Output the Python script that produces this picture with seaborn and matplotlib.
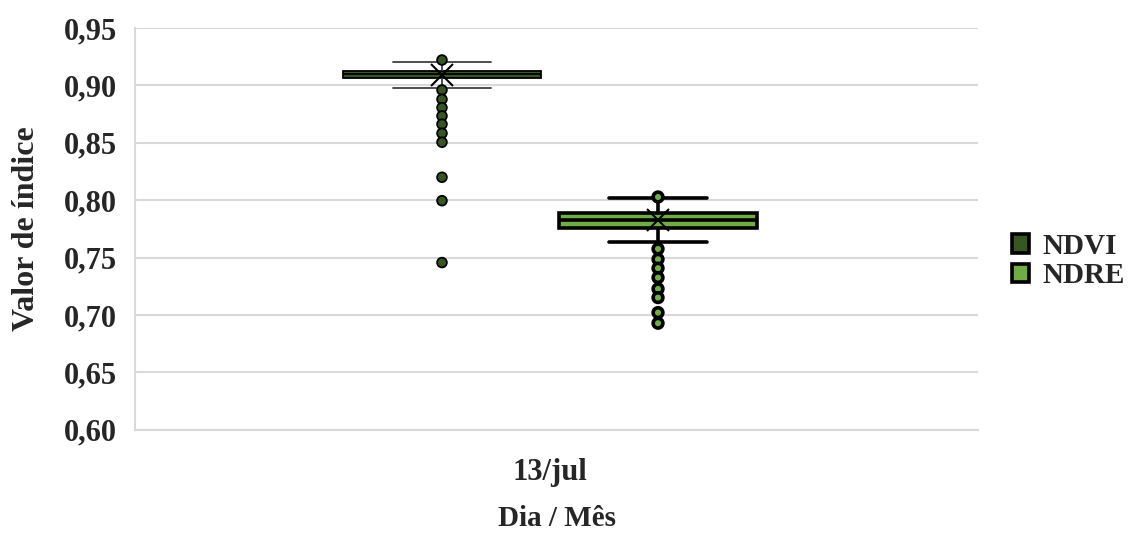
import pandas as pd
import numpy as np
import matplotlib
matplotlib.use("Agg")
import matplotlib.pyplot as plt
import seaborn as sns
from matplotlib.ticker import FuncFormatter

# data
dia = "13/jul"
indices = ["NDVI", "NDRE"]
# five-number summaries: lower whisker, Q1, median, Q3, upper whisker
ndvi_box = [0.8980, 0.9062, 0.9095, 0.9128, 0.9207]
ndre_box = [0.7634, 0.7762, 0.7826, 0.7887, 0.8018]
ndvi_outliers = [0.9221, 0.8960, 0.8879, 0.8806, 0.8734, 0.8662, 0.8583, 0.8505, 0.8200, 0.7996, 0.7457]
ndre_outliers = [0.8028, 0.7576, 0.7486, 0.7408, 0.7326, 0.7228, 0.7152, 0.7021, 0.6929]
means = [0.9091, 0.7828]
colors = ["#375623", "#70AD47"]

box_df = pd.DataFrame({
    "dia": dia,
    "indice": ["NDVI"] * len(ndvi_box) + ["NDRE"] * len(ndre_box),
    "valor": ndvi_box + ndre_box,
})
out_df = pd.DataFrame({
    "dia": dia,
    "indice": ["NDVI"] * len(ndvi_outliers) + ["NDRE"] * len(ndre_outliers),
    "valor": ndvi_outliers + ndre_outliers,
})
mean_df = pd.DataFrame({"dia": dia, "indice": indices, "valor": means})

sns.set_style("white")
plt.rcParams["font.family"] = ["Liberation Serif", "DejaVu Serif"]
plt.rcParams["font.weight"] = "bold"

fig = plt.figure(figsize=(11.37, 5.34), dpi=100)
ax = fig.add_axes([0.1187, 0.195, 0.7415, 0.7526])

# NDVI drawn with thin dark-gray lines, NDRE with heavy black lines (as in the original)
styles = {"NDVI": ("#404040", 1.3), "NDRE": ("black", 2.6)}
for name in indices:
    lc, lw = styles[name]
    sns.boxplot(data=box_df[box_df["indice"] == name], x="dia", y="valor",
                hue="indice", hue_order=indices, palette=colors, saturation=1,
                dodge=True, whis=(0, 100), showfliers=False, width=0.8, gap=0.0875,
                linecolor="black", linewidth=lw, ax=ax, legend=(name == "NDRE"),
                capprops=dict(color=lc), whiskerprops=dict(color=lc),
                medianprops=dict(color="black", linewidth=lw))
    sns.stripplot(data=out_df[out_df["indice"] == name], x="dia", y="valor",
                  hue="indice", hue_order=indices, palette=colors, dodge=True,
                  jitter=False, size=7, linewidth=lw, edgecolor="black",
                  legend=False, ax=ax, zorder=5)

sns.pointplot(data=mean_df, x="dia", y="valor", hue="indice", hue_order=indices,
              palette=["black", "black"], dodge=0.4, linestyle="none", markers="x",
              markersize=16, markeredgewidth=1.5, errorbar=None, legend=False, ax=ax)

ax.set_ylim(0.60, 0.95)
ax.set_yticks(np.arange(0.60, 0.951, 0.05))
ax.yaxis.set_major_formatter(FuncFormatter(lambda v, p: f"{v:.2f}".replace(".", ",")))
ax.set_xlim(-0.7685, 0.7926)
ax.grid(axis="y", color="#d9d9d9", linewidth=1.5)
ax.set_axisbelow(True)
for s in ["top", "right"]:
    ax.spines[s].set_visible(False)
for s in ["left", "bottom"]:
    ax.spines[s].set_color("#d9d9d9")
    ax.spines[s].set_linewidth(1.5)
ax.tick_params(axis="both", length=0, labelsize=22)
ax.tick_params(axis="y", pad=13)
ax.tick_params(axis="x", pad=20)
for lab in ax.get_xticklabels() + ax.get_yticklabels():
    lab.set_fontweight("bold")

ax.set_xlabel("Dia / Mês", fontsize=21, fontweight="bold", labelpad=13)
ax.set_ylabel("Valor de índice", fontsize=23, fontweight="bold", labelpad=16)

handles, labels = ax.get_legend_handles_labels()
ax.legend(handles[:2], labels[:2], loc="center left", bbox_to_anchor=(1.04, 0.42),
          frameon=False, handlelength=0.6, handleheight=0.6, borderaxespad=0,
          borderpad=0, handletextpad=0.45, labelspacing=0.08,
          prop={"weight": "bold", "size": 21})

fig.savefig("out.png", dpi=100)
